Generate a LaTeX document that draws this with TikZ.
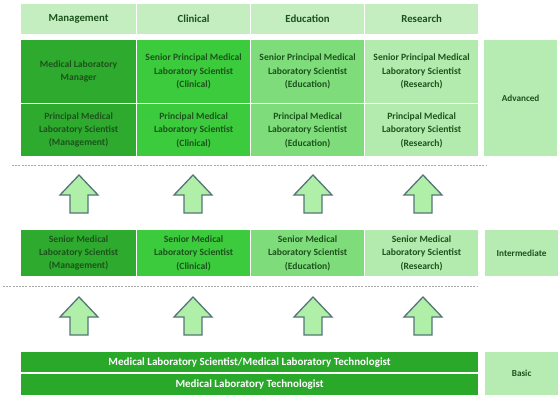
\documentclass[tikz,border=0pt]{standalone}
\usepackage{fontspec}
\setmainfont{Carlito}
\definecolor{cMan}{HTML}{2EAB2E}
\definecolor{cCli}{HTML}{3CCB3C}
\definecolor{cEdu}{HTML}{7EDD7A}
\definecolor{cRes}{HTML}{B3EBAE}
\definecolor{cHead}{HTML}{C4EEC0}
\definecolor{cBasic}{HTML}{2AA82A}
\definecolor{cLab}{HTML}{B6ECB2}
\definecolor{txt}{HTML}{1C521C}
\definecolor{arrFill}{HTML}{B0EFA8}
\definecolor{arrDraw}{HTML}{557578}
\definecolor{dotc}{HTML}{A8A8A8}
\begin{document}
\begin{tikzpicture}[x=1pt,y=-1pt,
  cell/.style={draw=white, line width=1.2pt, text=txt, align=center, inner sep=0pt,
    anchor=north west, font=\bfseries\fontsize{9.6}{13.3}\selectfont},
  head/.style={cell, fill=cHead, minimum height=31pt, font=\bfseries\fontsize{10.8}{12}\selectfont},
  lab/.style={cell, fill=cLab, minimum width=74pt, font=\bfseries\fontsize{9.2}{10}\selectfont},
  basic/.style={cell, fill=cBasic, text=white, minimum width=458pt, font=\bfseries\fontsize{11}{12}\selectfont},
  uparrow/.style={fill=arrFill, draw=arrDraw, line width=1.3pt, line join=miter},
  sep/.style={draw=dotc, line width=0.8pt, dash pattern=on 2pt off 1.2pt}]
\useasboundingbox (0,0) rectangle (560,394);
\fill[white] (0,0) rectangle (560,394);

% header
\node[head, minimum width=116pt] (hM) at (20,3) {Management};
\node[head, minimum width=114pt] (hC) at (136,3) {Clinical};
\node[head, minimum width=114pt] (hE) at (250,3) {Education};
\node[head, minimum width=114pt] (hR) at (364,3) {Research};

% advanced row 1
\node[cell, fill=cMan, minimum width=116pt, minimum height=64pt] (a1M) at (20,39) {Medical Laboratory\\Manager};
\node[cell, fill=cCli, minimum width=114pt, minimum height=64pt] (a1C) at (136,39) {Senior Principal Medical\\Laboratory Scientist\\(Clinical)};
\node[cell, fill=cEdu, minimum width=114pt, minimum height=64pt] (a1E) at (250,39) {Senior Principal Medical\\Laboratory Scientist\\(Education)};
\node[cell, fill=cRes, minimum width=114pt, minimum height=64pt] (a1R) at (364,39) {Senior Principal Medical\\Laboratory Scientist\\(Research)};

% advanced row 2
\node[cell, fill=cMan, minimum width=116pt, minimum height=53pt] (a2M) at (20,103) {Principal Medical\\Laboratory Scientist\\(Management)};
\node[cell, fill=cCli, minimum width=114pt, minimum height=53pt] (a2C) at (136,103) {Principal Medical\\Laboratory Scientist\\(Clinical)};
\node[cell, fill=cEdu, minimum width=114pt, minimum height=53pt] (a2E) at (250,103) {Principal Medical\\Laboratory Scientist\\(Education)};
\node[cell, fill=cRes, minimum width=114pt, minimum height=53pt] (a2R) at (364,103) {Principal Medical\\Laboratory Scientist\\(Research)};

\node[lab, minimum height=117pt] (lA) at (483,39) {Advanced};

% separator 1
\coordinate (s1a) at (12,165);
\coordinate (s1b) at (487,165);
\draw[sep] (s1a) -- (s1b);

% arrows 1
\foreach \c in {79,193,313,423}{
  \path[uparrow] ({\c-9},213) -- ({\c-9},195) -- ({\c-19},195) -- (\c,175) -- ({\c+19},195) -- ({\c+9},195) -- ({\c+9},213) -- cycle;
}

% intermediate
\node[cell, fill=cMan, minimum width=116pt, minimum height=47pt] (iM) at (20,229) {Senior Medical\\Laboratory Scientist\\(Management)};
\node[cell, fill=cCli, minimum width=114pt, minimum height=47pt] (iC) at (136,229) {Senior Medical\\Laboratory Scientist\\(Clinical)};
\node[cell, fill=cEdu, minimum width=114pt, minimum height=47pt] (iE) at (250,229) {Senior Medical\\Laboratory Scientist\\(Education)};
\node[cell, fill=cRes, minimum width=114pt, minimum height=47pt] (iR) at (364,229) {Senior Medical\\Laboratory Scientist\\(Research)};
\node[lab, minimum height=47pt] (lI) at (484,229) {Intermediate};

% separator 2
\coordinate (s2a) at (3,286);
\coordinate (s2b) at (478,286);
\draw[sep] (s2a) -- (s2b);

% arrows 2
\foreach \c in {79,193,313,423}{
  \path[uparrow] ({\c-9},335) -- ({\c-9},317) -- ({\c-19},317) -- (\c,297) -- ({\c+19},317) -- ({\c+9},317) -- ({\c+9},335) -- cycle;
}

% basic
\node[basic, minimum height=21pt] (b1) at (20,351) {Medical Laboratory Scientist/Medical Laboratory Technologist};
\node[basic, minimum height=22pt] (b2) at (20,373) {Medical Laboratory Technologist};
\node[lab, minimum height=44pt] (lB) at (484,351) {Basic};
\end{tikzpicture}
\end{document}
